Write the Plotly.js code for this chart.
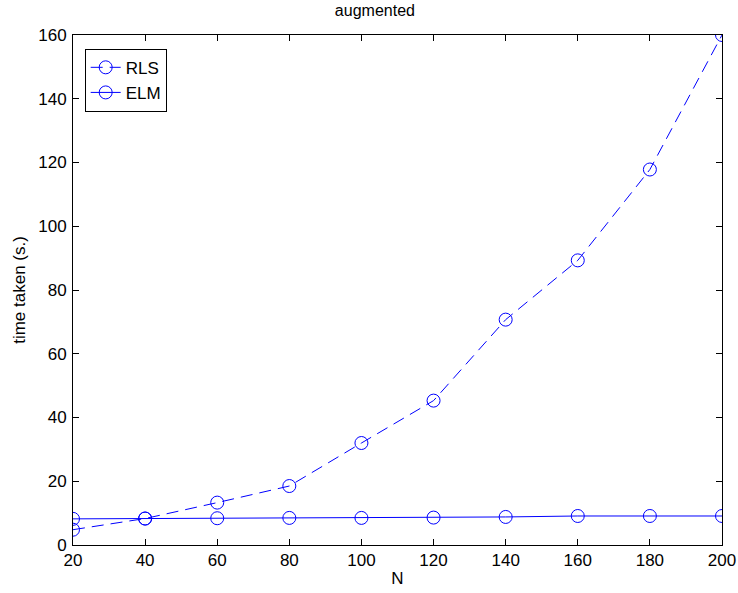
<!DOCTYPE html>
<html>
<head>
<meta charset="utf-8">
<script src="https://cdn.plot.ly/plotly-3.0.1.min.js"></script>
<style>html,body{margin:0;padding:0;background:#fff}#chart{width:738px;height:593px}</style>
</head>
<body>
<div id="chart"></div>
<script>
const N = [20, 40, 60, 80, 100, 120, 140, 160, 180, 200];
const rls = [4.8, 8.3, 13.3, 18.5, 32.0, 45.3, 70.7, 89.3, 117.8, 160.0];
const elm = [8.2, 8.3, 8.4, 8.5, 8.5, 8.6, 8.8, 9.1, 9.1, 9.1];
const xTicks = [20, 40, 60, 80, 100, 120, 140, 160, 180, 200];
const yTicks = [0, 20, 40, 60, 80, 100, 120, 140, 160];

const blue = 'rgb(0,0,255)';
const fam = 'Liberation Sans, Arial, sans-serif';
const traces = [
  {x: N, y: rls, name: 'RLS', type: 'scatter', mode: 'lines+markers',
   line: {color: blue, width: 1, dash: '12px,7px'},
   marker: {symbol: 'circle-open', size: 13, color: blue, line: {width: 1, color: blue}}},
  {x: N, y: elm, name: 'ELM', type: 'scatter', mode: 'lines+markers',
   line: {color: blue, width: 1},
   marker: {symbol: 'circle-open', size: 13, color: blue, line: {width: 1, color: blue}}}
];

const axisCommon = {
  showline: true, linecolor: '#000', linewidth: 1, mirror: 'ticks',
  ticks: 'inside', ticklen: 6, tickcolor: '#000', showgrid: false, zeroline: false,
  tickfont: {family: fam, size: 17, color: '#000'}
};

const layout = {
  width: 738, height: 593,
  margin: {l: 73, r: 16, t: 35, b: 48},
  paper_bgcolor: '#fff', plot_bgcolor: '#fff',
  title: {text: 'augmented', font: {family: fam, size: 16, color: '#000'},
          x: 0.508, xanchor: 'center', y: 0.992, yanchor: 'top'},
  xaxis: Object.assign({}, axisCommon, {range: [20, 200], tickvals: xTicks,
    title: {text: 'N', font: {family: fam, size: 17, color: '#000'}, standoff: 2}}),
  yaxis: Object.assign({}, axisCommon, {range: [0, 160], tickvals: yTicks, ticklabelstandoff: 2,
    title: {text: 'time taken (s.)', font: {family: fam, size: 17, color: '#000'}, standoff: 8}}),
  showlegend: true,
  legend: {x: 0.018, y: 0.973, xanchor: 'left', yanchor: 'top',
    bgcolor: '#fff', bordercolor: '#000', borderwidth: 1,
    font: {family: fam, size: 17, color: '#000'},
    entrywidth: 110, entrywidthmode: 'pixels',
    tracegroupgap: 0}
};

Plotly.newPlot('chart', traces, layout, {displayModeBar: false, staticPlot: true});
</script>
</body>
</html>
